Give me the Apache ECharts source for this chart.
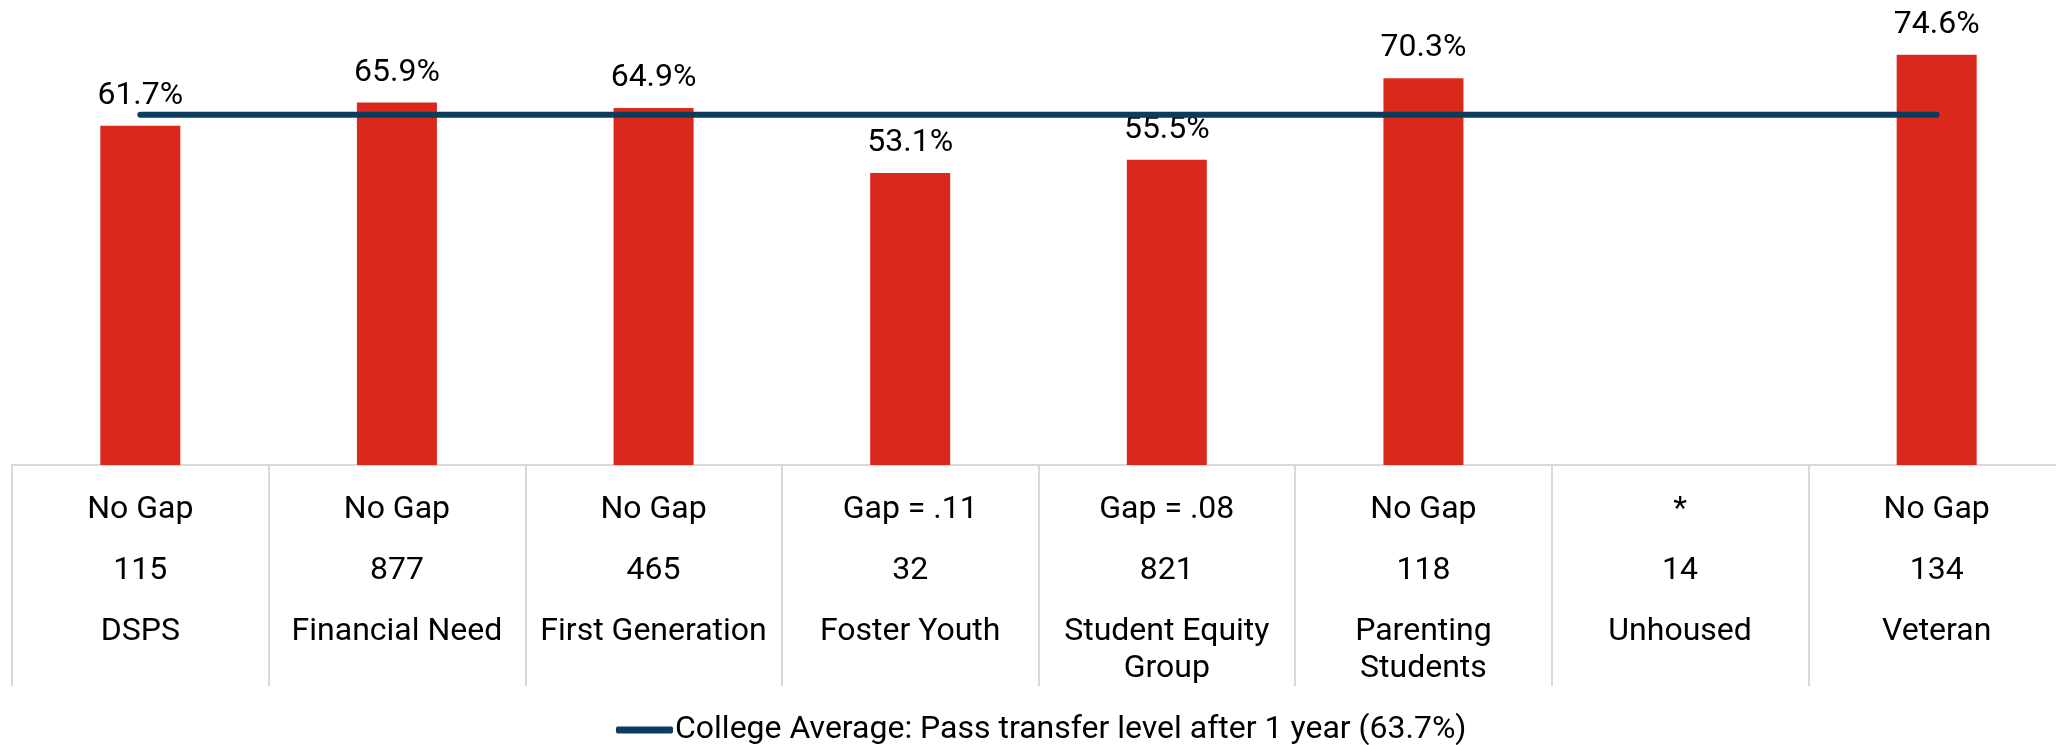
<!DOCTYPE html>
<html>
<head>
<meta charset="utf-8">
<script src="https://cdn.jsdelivr.net/npm/echarts@6/dist/echarts.min.js"></script>
<style>
  html, body { margin: 0; padding: 0; background: #fff; }
  #chart { width: 2056px; height: 745px; }
</style>
</head>
<body>
<div id="chart"></div>
<script>
const categories = ['DSPS', 'Financial Need', 'First Generation', 'Foster Youth',
  'Student Equity\nGroup', 'Parenting\nStudents', 'Unhoused', 'Veteran']
const gapLabels = ['No Gap', 'No Gap', 'No Gap', 'Gap = .11', 'Gap = .08', 'No Gap', '*', 'No Gap']
const counts = [115, 877, 465, 32, 821, 118, 14, 134]
const passRates = [61.7, 65.9, 64.9, 53.1, 55.5, 70.3, null, 74.6]
const collegeAverage = [63.7, 63.7, 63.7, 63.7, 63.7, 63.7, 63.7, 63.7]
const avgName = 'College Average: Pass transfer level after 1 year (63.7%)'

const font = 'Roboto, "Noto Sans", sans-serif'
const gridLine = '#d9d9d9'
const navy = '#0B3C5D'

const chart = echarts.init(document.getElementById('chart'), null, { renderer: 'canvas' })

chart.setOption({
  animation: false,
  textStyle: { fontFamily: font, color: '#000' },
  // the table runs past the right edge in the original, so let the grid overflow
  grid: { left: 12, width: 2053, top: 25, bottom: 280, outerBoundsMode: 'none', containLabel: false },
  legend: {
    data: [{ name: avgName, icon: 'roundRect' }], left: 611, top: 709,
    itemWidth: 57, itemHeight: 7,
    itemStyle: { color: navy },
    textStyle: { fontFamily: font, fontSize: 32, color: '#000', padding: [0, 0, 0, -3] },
  },
  xAxis: {
    type: 'category', data: categories,
    axisLine: { show: true, lineStyle: { color: gridLine, width: 2 } },
    axisTick: { show: true, interval: 0, length: 221, lineStyle: { color: gridLine, width: 2 } },
    axisLabel: {
      interval: 0, margin: 14, color: '#000', fontFamily: font,
      formatter: (v, i) => `{a|${gapLabels[i]}}\n{a|${counts[i]}}\n{s| }\n{c|${v}}`,
      rich: {
        a: { fontSize: 32, lineHeight: 61, fontFamily: font, color: '#000' },
        s: { fontSize: 2, lineHeight: 12 },
        c: { fontSize: 32, lineHeight: 37, fontFamily: font, color: '#000' },
      },
    },
  },
  yAxis: { type: 'value', min: 0, max: 80, show: false, splitLine: { show: false } },
  series: [
    {
      name: 'Pass rate', type: 'bar', data: passRates, barWidth: 80,
      itemStyle: { color: '#DA291C' },
      label: {
        show: true, position: 'top', distance: 14,
        fontFamily: font, fontSize: 32, color: '#000',
        formatter: p => p.value.toFixed(1) + '%',
      },
    },
    {
      name: avgName, type: 'line', data: collegeAverage, symbol: 'none', z: 5,
      lineStyle: { color: navy, width: 6, cap: 'round' },
      itemStyle: { color: navy },
    },
  ],
})
</script>
</body>
</html>
